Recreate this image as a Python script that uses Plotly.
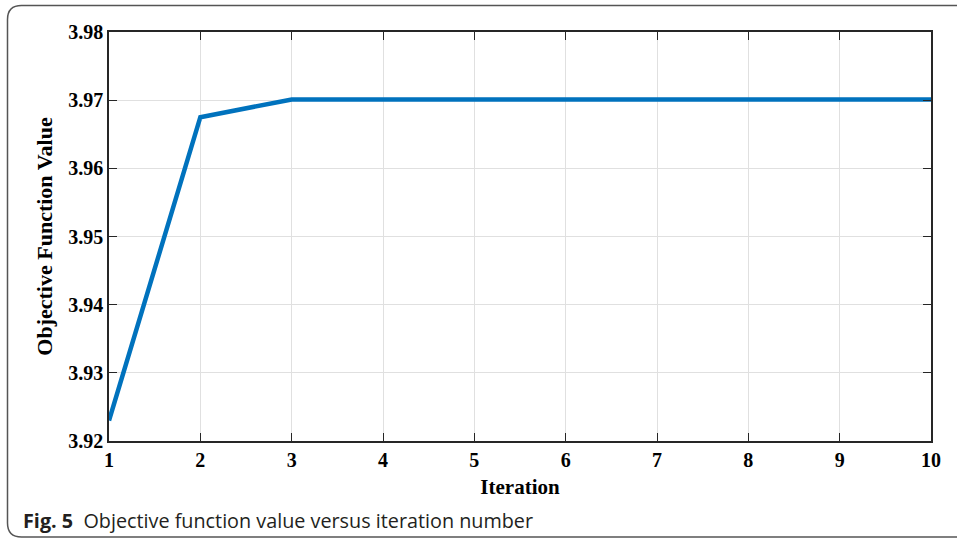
import plotly.graph_objects as go

# Objective function value recorded at each iteration
iterations = [1, 2, 3, 4, 5, 6, 7, 8, 9, 10]
objective_values = [3.9230, 3.9675, 3.9701, 3.9701, 3.9701, 3.9701, 3.9701, 3.9701, 3.9701, 3.9701]

y_ticks = [3.92, 3.93, 3.94, 3.95, 3.96, 3.97, 3.98]
x_ticks = iterations

W, H = 957, 539
ML, MR, MT, MB = 109, 26, 32, 98
PW, PH = W - ML - MR, H - MT - MB


def px(x):
    return (x - ML) / PW


def py(y):
    return (H - MB - y) / PH


common = dict(
    showline=True, linecolor="#262626", linewidth=1.5, mirror="ticks",
    ticks="inside", ticklen=8, tickwidth=1.2, tickcolor="#262626",
    showgrid=True, gridcolor="#e0e0e0", gridwidth=1,
    zeroline=False, tickfont=dict(family="Liberation Serif", size=20, color="black"),
)

fig = go.Figure()
fig.add_trace(go.Scatter(
    x=iterations, y=objective_values, mode="lines",
    line=dict(color="#0072BD", width=4.5),
    showlegend=False,
))

fig.update_xaxes(
    range=[1, 10], tickvals=x_ticks, ticktext=[f"<b>{v}</b>" for v in x_ticks],
    title=dict(text="<b>Iteration</b>", font=dict(family="Liberation Serif", size=21, color="black"), standoff=10),
    **common,
)
fig.update_yaxes(
    range=[3.92, 3.98], tickvals=y_ticks, ticktext=[f"<b>{v:.2f}</b>" for v in y_ticks],
    title=dict(text="<b>Objective Function Value</b>", font=dict(family="Liberation Serif", size=22, color="black"), standoff=10),
    **common,
)

# Rounded frame around the figure and its caption
r = 14
x0, y0, x1, y1 = 7.5, 5.5, 975, 537
path = (
    f"M {px(x1)},{py(y0)} L {px(x0 + r)},{py(y0)} "
    f"Q {px(x0)},{py(y0)} {px(x0)},{py(y0 + r)} "
    f"L {px(x0)},{py(y1 - r)} "
    f"Q {px(x0)},{py(y1)} {px(x0 + r)},{py(y1)} "
    f"L {px(x1)},{py(y1)}"
)
fig.add_shape(type="path", path=path, xref="paper", yref="paper",
              line=dict(color="#555555", width=1.5), layer="above")

fig.add_annotation(
    text="<b>Fig. 5</b>  Objective function value versus iteration number",
    xref="paper", yref="paper", x=px(21), y=py(520),
    xanchor="left", yanchor="middle", showarrow=False,
    font=dict(family="Open Sans", size=19.8, color="#231f20"),
)

fig.update_layout(
    width=W, height=H,
    margin=dict(l=ML, r=MR, t=MT, b=MB),
    paper_bgcolor="white", plot_bgcolor="white",
)

fig.write_html("out.html")
